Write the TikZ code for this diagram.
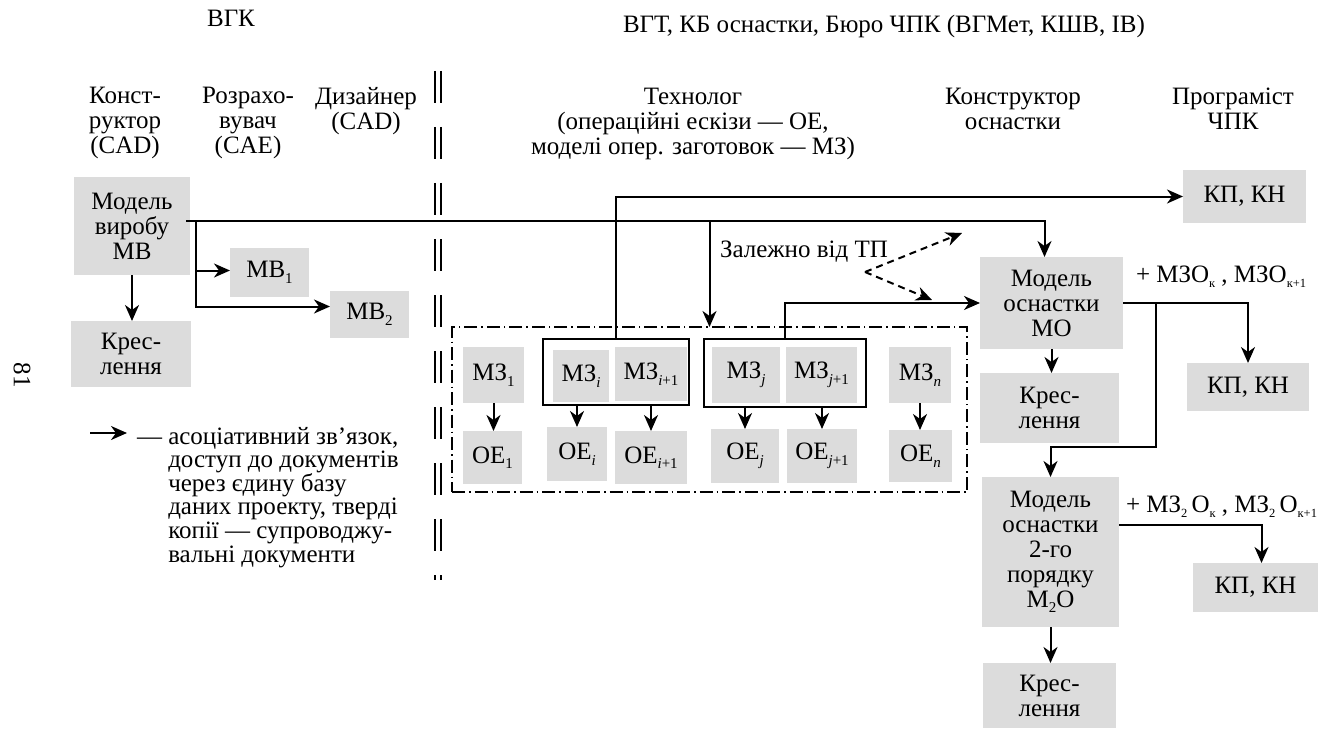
\documentclass[tikz,border=0pt]{standalone}
\usepackage{fontspec}
\setmainfont{Liberation Serif}
\usetikzlibrary{arrows.meta}
\definecolor{boxgray}{RGB}{220,220,220}
% lowered indices in text size
\newcommand\lowidx[1]{\raisebox{-0.22em}{\fontsize{15}{15}\selectfont #1}}
\newcommand\tinyidx[1]{\raisebox{-0.22em}{\fontsize{12.5}{12.5}\selectfont #1}}

\begin{document}
\begin{tikzpicture}[x=1pt,y=-1pt,
  every node/.style={inner sep=0pt, outer sep=0pt, font=\fontsize{25}{25}\selectfont},
  gbox/.style={fill=boxgray, align=center},
  link/.style={line width=2pt, -{Stealth[length=16pt,width=14pt,inset=5pt]}},
  hint/.style={link, dash pattern=on 7pt off 5pt},
  group/.style={draw, line width=1.8pt, dash pattern=on 13pt off 4pt on 1.5pt off 4pt},
  pairbox/.style={draw, line width=2pt},
  head/.style={align=center, anchor=north},
  divider/.style={line width=2.6pt, dash pattern=on 32pt off 24pt}]
\useasboundingbox (0,0) rectangle (1332,730);

% page number
\node[rotate=-90] (pnum) at (22,375) {81};

% titles
\node[anchor=base] (tvgk) at (231,27) {ВГК};
\node[anchor=base] (tvgt) at (884,33) {ВГТ, КБ оснастки, Бюро ЧПК (ВГМет, КШВ, ІВ)};

% column heads
\node[head] (hkon) at (125,87) {Конст-\\руктор\\(CAD)};
\node[head] (hroz) at (248,87) {Розрахо-\\вувач\\(CAE)};
\node[head] (hdiz) at (366,87) {Дизайнер\\(CAD)};
\node[head] (htech) at (693,88) {Технолог\\(операційні ескізи — ОЕ,\\моделі опер. заготовок — МЗ)};
\node[head] (hko) at (1013,88) {Конструктор\\оснастки};
\node[head] (hprog) at (1233,88) {Програміст\\ЧПК};

% divider between departments
\draw[divider] (435,71) -- (435,580);
\draw[divider] (441,71) -- (441,580);

% product design
\node[gbox, minimum width=116pt, minimum height=98pt] (mv) at (132,226) {Модель\\виробу\\МВ};
\node[gbox, minimum width=120pt, minimum height=66pt] (kr1) at (131,354) {Крес-\\лення};
\node[gbox, minimum width=79pt, minimum height=49pt] (mv1) at (269.5,272.5) {МВ\lowidx{1}};
\node[gbox, minimum width=79pt, minimum height=47pt] (mv2) at (369.5,314.5) {МВ\lowidx{2}};

% process planning group
\node[group, minimum width=515pt, minimum height=165pt] (grp) at (709.5,409.5) {};
\node[pairbox, minimum width=146pt, minimum height=66pt] (bri) at (616,372) {};
\node[pairbox, minimum width=162pt, minimum height=68pt] (brj) at (785,373) {};

\node[gbox, minimum width=61pt, minimum height=56pt] (mz1) at (493.5,375) {МЗ\lowidx{1}};
\node[gbox, minimum width=56pt, minimum height=52pt] (mzi) at (581,376) {МЗ\lowidx{\itshape i}};
\node[gbox, minimum width=72pt, minimum height=54pt] (mzi1) at (651,374) {МЗ\lowidx{\itshape i\upshape +1}};
\node[gbox, minimum width=68pt, minimum height=56pt] (mzj) at (746,375) {МЗ\lowidx{\itshape j}};
\node[gbox, minimum width=71pt, minimum height=56pt] (mzj1) at (821.5,375) {МЗ\lowidx{\itshape j\upshape +1}};
\node[gbox, minimum width=62pt, minimum height=56pt] (mzn) at (920,375) {МЗ\lowidx{\itshape n}};

\node[gbox, minimum width=59pt, minimum height=53pt] (oe1) at (492.5,457.5) {ОЕ\lowidx{1}};
\node[gbox, minimum width=60pt, minimum height=54pt] (oei) at (577,454) {ОЕ\lowidx{\itshape i}};
\node[gbox, minimum width=72pt, minimum height=53pt] (oei1) at (651,457.5) {ОЕ\lowidx{\itshape i\upshape +1}};
\node[gbox, minimum width=68pt, minimum height=54pt] (oej) at (745,456) {ОЕ\lowidx{\itshape j}};
\node[gbox, minimum width=70pt, minimum height=54pt] (oej1) at (822,456) {ОЕ\lowidx{\itshape j\upshape +1}};
\node[gbox, minimum width=63pt, minimum height=52pt] (oen) at (920.5,456) {ОЕ\lowidx{\itshape n}};

% tooling design
\node[gbox, minimum width=143pt, minimum height=92pt] (mo) at (1051.5,303) {Модель\\оснастки\\МО};
\node[gbox, minimum width=139pt, minimum height=70pt] (kr2) at (1049.5,408) {Крес-\\лення};
\node[gbox, minimum width=137pt, minimum height=150pt] (m2o) at (1050.5,552) {Модель\\оснастки\\2-го\\порядку\\М\lowidx{2}О};
\node[gbox, minimum width=133pt, minimum height=65pt] (kr3) at (1049.5,695.5) {Крес-\\лення};

% NC programming
\node[gbox, minimum width=123pt, minimum height=53pt] (kpkn1) at (1244.5,196.5) {КП, КН};
\node[gbox, minimum width=122pt, minimum height=48pt] (kpkn2) at (1248,387) {КП, КН};
\node[gbox, minimum width=125pt, minimum height=49pt] (kpkn3) at (1255.5,587.5) {КП, КН};

% annotations
\node[anchor=base west] (dep) at (720,257) {Залежно від ТП};
\node[anchor=base west] (add1) at (1136,282) {+ МЗО\tinyidx{к} , МЗО\tinyidx{к+1}};
\node[anchor=base west] (add2) at (1126,512) {+ МЗ\tinyidx{2}\,О\tinyidx{к} , МЗ\tinyidx{2}\,О\tinyidx{к+1}};

% connectors: product model
\draw[link] ([xshift=-4pt,yshift=5pt]mv.east) -| ([xshift=-7pt]mo.north);
\coordinate (split) at (196,221);
\coordinate (mv1in) at ([yshift=2pt]mv1.west);
\draw[link] (split) |- ([yshift=8pt]mv2.west);
\draw[link] (mv1in -| split) -- (mv1in);
\draw[link] (mv.south) -- (mv.south |- kr1.north);

% connectors: process planning
\draw[link] (split -| grp.north) -- (grp.north);
\draw[link] (bri.north) |- (kpkn1.west);
\draw[link] (brj.north) |- (mo.west);
\coordinate (fork) at (865,272);
\coordinate (forkup) at (962,233);
\coordinate (forkdn) at (932,300);
\draw[hint] (fork) -- (forkup);
\draw[hint] (fork) -- (forkdn);

\draw[link] (mz1.south) -- (mz1.south |- oe1.north);
\draw[link] (bri.south -| oei.north) -- (oei.north);
\draw[link] (bri.south -| oei1.north) -- (oei1.north);
\draw[link] (brj.south -| oej.north) -- (oej.north);
\draw[link] (brj.south -| oej1.north) -- (oej1.north);
\draw[link] (mzn.south) -- (mzn.south |- oen.north);

% connectors: tooling
\draw[link] (mo.south) -- (mo.south |- kr2.north);
\draw[link] (mo.east) -| (kpkn2.north);
\coordinate (split2) at (1156,303);
\coordinate (bend2) at (1156,447);
\draw[link] (split2) -- (bend2) -| (m2o.north);
\draw[link] ([yshift=27pt]m2o.east) -| ([xshift=6pt]kpkn3.north);
\draw[link] (m2o.south) -- (m2o.south |- kr3.north);

% legend
\coordinate (lga) at (90,433);
\coordinate (lgb) at (127,433);
\draw[link] (lga) -- (lgb);
\node[anchor=north west, align=left, font=\fontsize{25}{23.6}\selectfont] (legend) at (137,427)
  {— асоціативний зв’язок,\\
   \hphantom{— }доступ до документів\\
   \hphantom{— }через єдину базу\\
   \hphantom{— }даних проекту, тверді\\
   \hphantom{— }копії — супроводжу-\\
   \hphantom{— }вальні документи};
\end{tikzpicture}
\end{document}
